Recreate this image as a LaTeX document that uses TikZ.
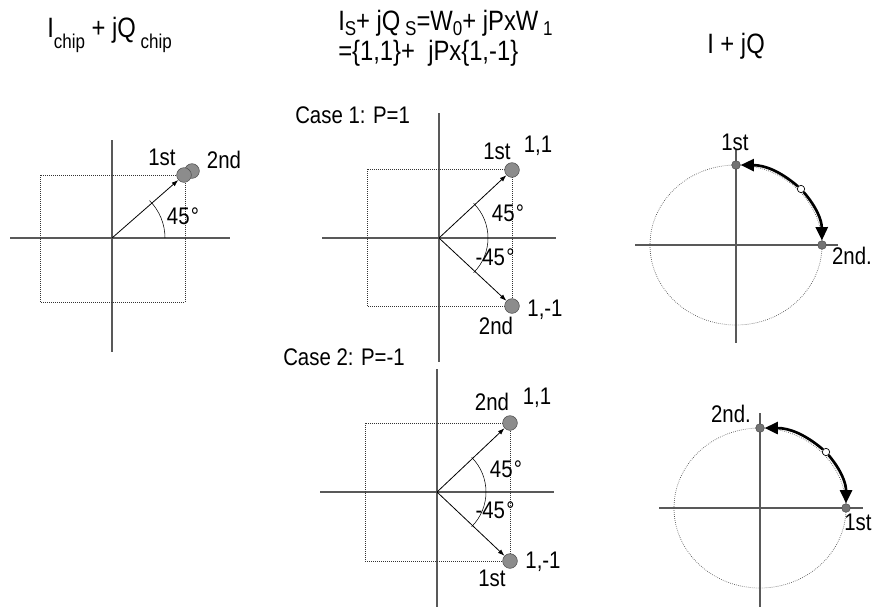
\documentclass[tikz,border=0pt]{standalone}
\usepackage{fontspec}
\setmainfont{Liberation Sans}[FakeStretch=0.85]
\usetikzlibrary{arrows.meta,positioning}
\newcommand{\dn}[2][0.4em]{\raisebox{-#1}{\fontsize{15}{15}\selectfont #2}}

\begin{document}
\begin{tikzpicture}[x=0.75pt,y=-0.75pt,>={Latex[length=5pt,width=3.5pt]},
  every node/.style={font=\fontsize{18}{20}\selectfont,inner sep=0pt},
  title/.style={font=\fontsize{21}{23}\selectfont,anchor=base west},
  axis/.style={draw=black!65,line width=0.9pt},
  guide/.style={draw=black!80,densely dotted,line width=0.5pt},
  orbit/.style={draw=black!70,densely dotted,line width=0.5pt},
  phasor/.style={->,line width=0.6pt},
  dot/.style={circle,draw=black!70,fill=black!45,minimum size=11pt},
  spot/.style={circle,draw=black!70,fill=black!55,minimum size=6.5pt},
  hole/.style={circle,draw=black,fill=white,minimum size=5.5pt,line width=0.5pt},
  swing/.style={line width=2pt,-{Triangle[length=10pt,width=9pt]}}]
\useasboundingbox (0,0) rectangle (882,608);

% headings
\node[title] (t1) at (47,37) {I\dn{chip} + jQ\,\dn{chip}};
\node[title] (t2a) at (338,30) {I\dn[0.18em]{S}+ jQ\,\dn[0.18em]{S}=W\dn[0.18em]{0}+ jPxW\,\dn[0.18em]{1}};
\node[title] (t2b) at (338,60) {=\{1,1\}+\ \ jPx\{1,-1\}};
\node[title] (t3) at (707,53) {I + jQ};

% chip constellation
\coordinate (o1) at (112,238);
\draw[axis] (10,238) -- (230,238);
\draw[axis] (112,140) -- (112,352);
\draw[guide] (40,175) rectangle (185,302);
\node[dot] (b1) at (192,171) {};
\node[dot] (a1) at (184,175) {};
\draw[phasor] (o1) -- (a1);
\draw (o1) ++(53,0) arc[start angle=0,end angle=-45,radius=53];
\node (a1l) at (162,157) {1st};
\node (b1l) at (224,160) {2nd};
\node (g1) at (183,216) {45\kern1pt°};

% case 1
\node[anchor=west] (case1) at (295,115) {Case 1: P=1};
\coordinate (o2) at (439,238);
\draw[axis] (322,238) -- (556,238);
\draw[axis] (439,113) -- (439,362);
\draw[guide] (367,169) rectangle (512,306);
\node[dot] (a2) at (512,170) {};
\node[dot] (b2) at (512,306) {};
\draw[phasor] (o2) -- (a2);
\draw[phasor] (o2) -- (b2);
\draw (o2) ++(-45:49) arc[start angle=-45,end angle=45,radius=49];
\node (a2l) at (497,151) {1st};
\node (a2v) at (538,146) {1,1};
\node (g2) at (508,213) {45\kern1pt°};
\node (h2) at (495,257) {-45\kern1pt°};
\node (b2l) at (496,326) {2nd};
\node (b2v) at (545,310) {1,-1};

% case 2
\node[anchor=west] (case2) at (283,357) {Case 2: P=-1};
\coordinate (o3) at (437,492);
\draw[axis] (320,492) -- (554,492);
\draw[axis] (437,369) -- (437,607);
\draw[guide] (365,423) rectangle (510,561);
\node[dot] (a3) at (510,423) {};
\node[dot] (b3) at (510,561) {};
\draw[phasor] (o3) -- (a3);
\draw[phasor] (o3) -- (b3);
\draw (o3) ++(-45:49) arc[start angle=-45,end angle=45,radius=49];
\node (a3l) at (492,402) {2nd};
\node (a3v) at (537,398) {1,1};
\node (g3) at (506,469) {45\kern1pt°};
\node (h3) at (495,510) {-45\kern1pt°};
\node (b3l) at (492,578) {1st};
\node (b3v) at (543,562) {1,-1};

% I+jQ, case 1
\coordinate (o4) at (736,245);
\draw[axis] (635,245) -- (838,245);
\draw[axis] (736,150) -- (736,343);
\draw[orbit] (o4) ellipse[x radius=86,y radius=80];
\node[spot] (p4) at (736,165) {};
\node[spot] (q4) at (822,245) {};
\node[hole] (m4) at (801,189) {};
\draw[swing] (m4) to[bend right=20] (p4);
\draw[swing] (m4) to[bend left=20] (q4);
\node (p4l) at (735,142) {1st};
\node (q4l) at (852,256) {2nd.};

% I+jQ, case 2
\coordinate (o5) at (760,508);
\draw[axis] (659,508) -- (863,508);
\draw[axis] (760,413) -- (760,607);
\draw[orbit] (o5) ellipse[x radius=86,y radius=80];
\node[spot] (p5) at (760,428) {};
\node[spot] (q5) at (846,508) {};
\node[hole] (m5) at (826,452) {};
\draw[swing] (m5) to[bend right=20] (p5);
\draw[swing] (m5) to[bend left=20] (q5);
\node (p5l) at (731,414) {2nd.};
\node (q5l) at (858,522) {1st};
\end{tikzpicture}
\end{document}
